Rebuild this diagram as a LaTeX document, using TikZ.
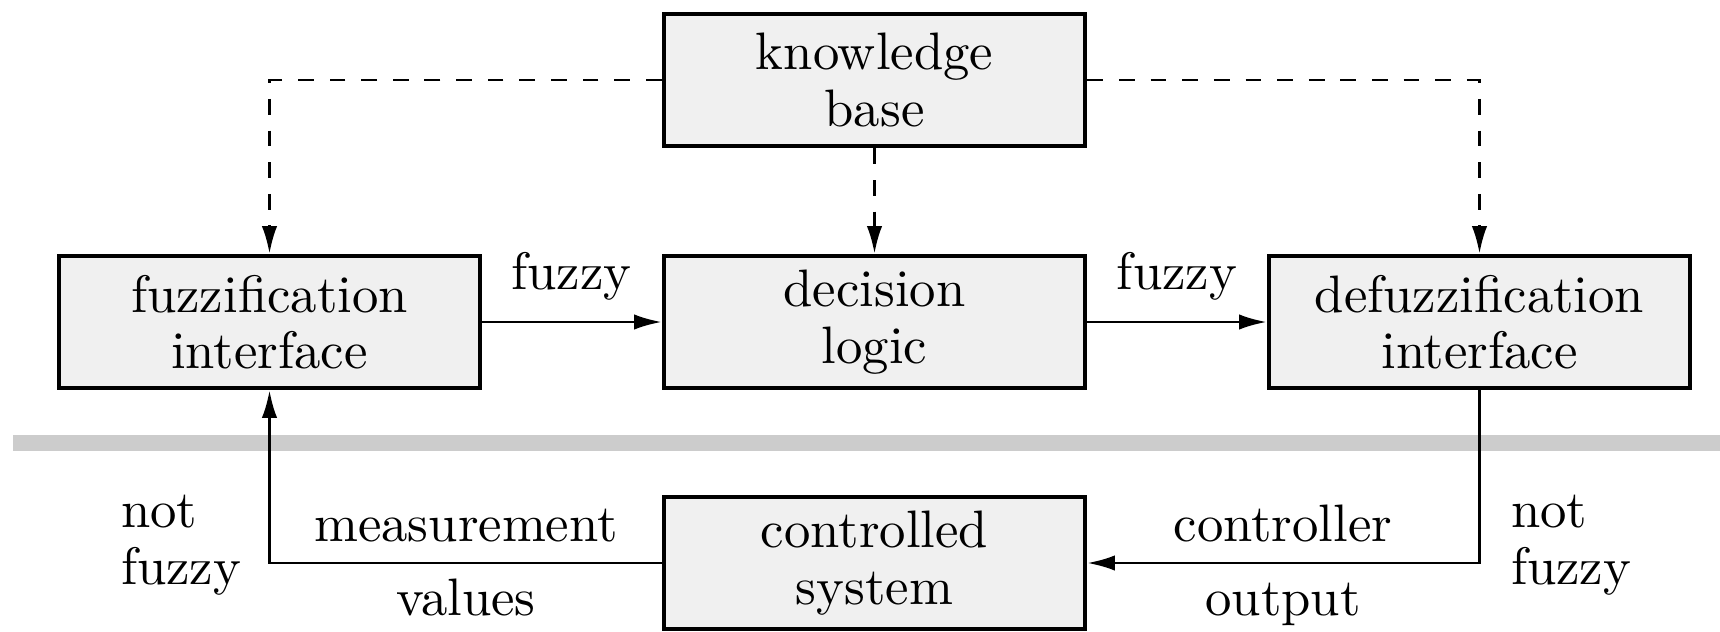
\documentclass[tikz,border=0pt]{standalone}
\usetikzlibrary{arrows.meta}
\newlength\pu
\setlength\pu{0.18975pt}
\begin{document}
\begin{tikzpicture}[x=0.18975pt, y=-0.18975pt,
  txt/.style={font=\fontsize{10pt}{10.7pt}\selectfont, inner sep=0pt},
  block/.style={txt, draw, line width=4.8\pu, fill=black!6, align=center,
    minimum width=421\pu, minimum height=132\pu},
  conn/.style={line width=2.5\pu, -{Latex[length=5.2pt,width=2.9pt]}},
  dconn/.style={conn, dash pattern=on 3pt off 3pt},
  side/.style={txt, align=left}]
  \useasboundingbox (0,0) rectangle (1720,632);

  % separator between controller and plant
  \fill[black!20] (13,435) rectangle (1720,451);

  % blocks
  \node[block] (kb)     at (874.5,80)   {knowledge\\base};
  \node[block] (fuzz)   at (269.5,322)  {fuzzification\\interface};
  \node[block] (dec)    at (874.5,322)  {decision\\logic};
  \node[block] (defuzz) at (1479.5,322) {defuzzification\\interface};
  \node[block] (ctrl)   at (874.5,563)  {controlled\\system};

  % knowledge base feeds the three stages
  \draw[dconn] (kb.west) -| (fuzz.north);
  \draw[dconn] (kb.east) -| (defuzz.north);
  \draw[dconn] (kb.south) -- (dec.north);

  % main signal path
  \draw[conn] (fuzz.east) -- (dec.west);
  \draw[conn] (dec.east) -- (defuzz.west);
  \draw[conn] (defuzz.south) |- (ctrl.east);
  \draw[conn] (ctrl.west) -| (fuzz.south);

  % labels
  \node[txt, anchor=base] (fz1) at (571.5,289) {fuzzy};
  \node[txt, anchor=base] (fz2) at (1177,289)  {fuzzy};
  \node[txt, anchor=base] (meas) at (466,541.7) {measurement};
  \node[txt, anchor=base] (vals) at (466,615)   {values};
  \node[txt, anchor=base] (cout) at (1283,541.7) {controller};
  \node[txt, anchor=base] (outp) at (1283,615)   {output};
  \node[side, anchor=west] (nf1) at (120,545)  {not\\fuzzy};
  \node[side, anchor=west] (nf2) at (1510,545) {not\\fuzzy};
\end{tikzpicture}
\end{document}
